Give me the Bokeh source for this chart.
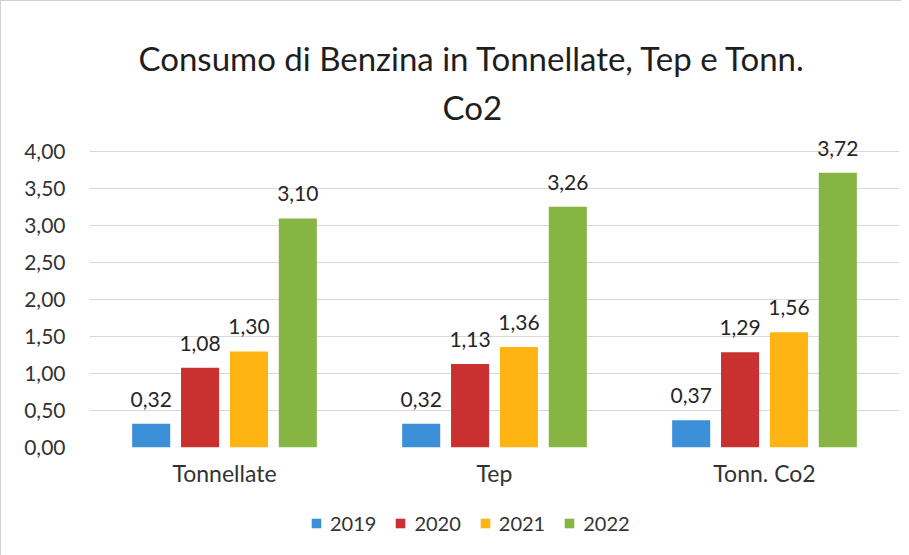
from bokeh.plotting import figure
from bokeh.layouts import column
from bokeh.models import (ColumnDataSource, Range1d, FactorRange, LabelSet, Legend, LegendItem,
                          Title, FixedTicker, CustomJSTickFormatter)
from bokeh.transform import dodge
from bokeh.core.properties import value
from bokeh.embed import file_html
from bokeh.resources import INLINE

categories = ["Tonnellate", "Tep", "Tonn. Co2"]
years = ["2019", "2020", "2021", "2022"]
v2019 = [0.32, 0.32, 0.37]
v2020 = [1.08, 1.13, 1.29]
v2021 = [1.30, 1.36, 1.56]
v2022 = [3.10, 3.26, 3.72]
yticks = [0, 0.5, 1, 1.5, 2, 2.5, 3, 3.5, 4]
series = [v2019, v2020, v2021, v2022]
colors = ["#3D8FD8", "#C93131", "#FFB413", "#86B543"]
offsets = [-0.2715, -0.0905, 0.0905, 0.2715]

FONT = "Lato"

xr = FactorRange(*categories)
p = figure(x_range=xr, y_range=Range1d(0, 4.25),
           width=900, height=496, output_backend="svg", toolbar_location=None,
           min_border_left=88, min_border_right=2, min_border_top=132, min_border_bottom=50)
p.outline_line_color = None
p.border_fill_color = "white"
p.background_fill_color = "white"

# titles
p.title.text = "Consumo di Benzina in Tonnellate, Tep e Tonn."
p.title.align = "left"
p.title.text_font = FONT
p.title.text_font_size = "33px"
p.title.text_font_style = "normal"
p.title.text_color = "#1e1e1e"
p.title.standoff = 0
p.title.offset = 49
t2 = Title(text="Co2", align="left", standoff=14, offset=353,
           text_font=FONT, text_font_size="33px", text_font_style="normal", text_color="#1e1e1e")
p.add_layout(t2, "above")

# legend-only figure below the chart
lg = figure(x_range=xr, y_range=Range1d(10, 11), width=900, height=58,
            output_backend="svg", toolbar_location=None,
            x_axis_location=None, y_axis_location=None,
            min_border_left=0, min_border_right=0, min_border_top=0, min_border_bottom=0)
lg.outline_line_color = None
lg.xgrid.grid_line_color = None
lg.ygrid.grid_line_color = None

items = []
for yr, vals, col, off in zip(years, series, colors, offsets):
    src = ColumnDataSource(dict(cat=categories, val=vals,
                                lab=[f"{v:.2f}".replace(".", ",") for v in vals]))
    p.vbar(x=dodge("cat", off, range=xr), top="val", width=0.141, source=src,
           fill_color=col, line_color=None)
    r = lg.vbar(x=dodge("cat", off, range=xr), top="val", width=0.141, source=src,
                fill_color=col, line_color=None)
    items.append(LegendItem(label=yr, renderers=[r]))
    p.add_layout(LabelSet(x=dodge("cat", off, range=xr), y="val", text="lab", source=src,
                          text_align="center", text_baseline="bottom", y_offset=17,
                          text_font=value(FONT), text_font_size="21px", text_color="#262626"))

p.yaxis.ticker = FixedTicker(ticks=yticks)
p.yaxis.formatter = CustomJSTickFormatter(code="return tick.toFixed(2).replace('.', ',');")
for ax in (p.xaxis, p.yaxis):
    ax.axis_line_color = None
    ax.major_tick_line_color = None
    ax.minor_tick_line_color = None
    ax.major_label_text_font = FONT
    ax.major_label_text_color = "#333333"
p.yaxis.major_label_text_font_size = "21px"
p.xaxis.major_label_text_font_size = "23px"
p.yaxis.major_label_standoff = 18
p.xaxis.major_label_standoff = 5
p.xgrid.grid_line_color = None
p.ygrid.grid_line_color = "#d9d9d9"
p.ygrid.grid_line_width = 1

legend = Legend(items=items, orientation="horizontal", location=(221, 20),
                label_text_font=FONT, label_text_font_size="20px", label_text_color="#333333",
                glyph_width=12, glyph_height=12, spacing=18, label_standoff=8,
                border_line_color=None, background_fill_alpha=0, margin=0, padding=6)
lg.add_layout(legend, "center")

layout = column(p, lg, spacing=0)
layout.styles = {"border-left": "1px solid #d0d0d0", "border-top": "1px solid #d0d0d0"}
open("out.html", "w").write(file_html(layout, INLINE))
